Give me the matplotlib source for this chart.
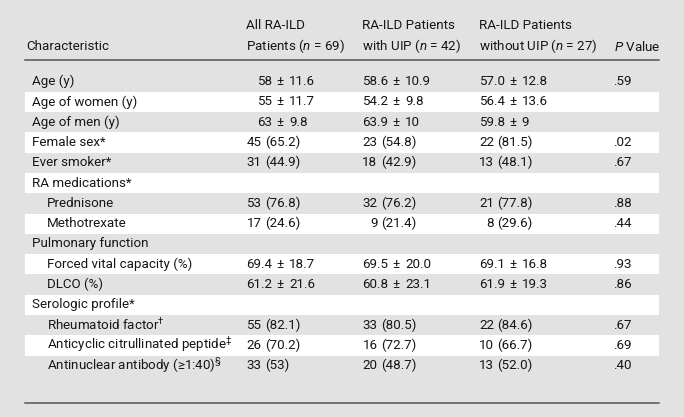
import matplotlib
matplotlib.use("Agg")
import matplotlib.pyplot as plt
from matplotlib.patches import Rectangle

# table content
headers = [
    ["Characteristic"],
    ["All RA-ILD", "Patients ($n$ = 69)"],
    ["RA-ILD Patients", "with UIP ($n$ = 42)"],
    ["RA-ILD Patients", "without UIP ($n$ = 27)"],
    ["$P$ Value"],
]
labels = ["Age (y)", "Age of women (y)", "Age of men (y)", "Female sex*", "Ever smoker*",
          "RA medications*", "Prednisone", "Methotrexate", "Pulmonary function",
          "Forced vital capacity (%)", "DLCO (%)", "Serologic profile*",
          "Rheumatoid factor$^{\u2020}$", "Anticyclic citrullinated peptide$^{\u2021}$",
          "Antinuclear antibody (\u22651:40)$^{\u00a7}$"]
indented = [False, False, False, False, False, False, True, True, False, True, True,
            False, True, True, True]
all_pts = ["58 ± 11.6", "55 ± 11.7", "63 ± 9.8", "45 (65.2)", "31 (44.9)", "",
           "53 (76.8)", "17 (24.6)", "", "69.4 ± 18.7", "61.2 ± 21.6", "",
           "55 (82.1)", "26 (70.2)", "33 (53)"]
with_uip = ["58.6 ± 10.9", "54.2 ± 9.8", "63.9 ± 10", "23 (54.8)", "18 (42.9)", "",
            "32 (76.2)", "9 (21.4)", "", "69.5 ± 20.0", "60.8 ± 23.1", "",
            "33 (80.5)", "16 (72.7)", "20 (48.7)"]
without_uip = ["57.0 ± 12.8", "56.4 ± 13.6", "59.8 ± 9", "22 (81.5)", "13 (48.1)", "",
               "21 (77.8)", "8 (29.6)", "", "69.1 ± 16.8", "61.9 ± 19.3", "",
               "22 (84.6)", "10 (66.7)", "13 (52.0)"]
p_values = [".59", "", "", ".02", ".67", "", ".88", ".44", "", ".93", ".86", "",
            ".67", ".69", ".40"]

plt.rcParams['font.family'] = ['Roboto', 'DejaVu Sans']
plt.rcParams['mathtext.fontset'] = 'custom'
plt.rcParams['mathtext.it'] = 'Roboto:italic'
plt.rcParams['mathtext.rm'] = 'Roboto'

W, H = 684, 417
fig = plt.figure(figsize=(W / 100, H / 100), dpi=100)
fig.patch.set_facecolor("#e2e2e2")
ax = fig.add_axes([0, 0, 1, 1])
ax.set_xlim(0, W)
ax.set_ylim(H, 0)
ax.axis("off")

fs = 9.6
color = "#161616"
left, right = 25, 659
top0, row_h = 71.4, 20.3
col_x = [26, 246.5, 362.5, 479, 613.5]

# header
for x, lines in zip(col_x, headers):
    ys = [46.5] if len(lines) == 1 else [25, 46.5]
    for y, t in zip(ys, lines):
        ax.text(x, y, t, fontsize=fs, color=color, va="center", ha="left")
ax.plot([left, right], [60, 60], color="#555555", lw=1.1)

# striped rows
for i in range(len(labels)):
    if i % 2 == 1:
        ax.add_patch(Rectangle((left, top0 + i * row_h), right - left, row_h,
                               facecolor="white", edgecolor="none"))
ax.plot([left, right], [403, 403], color="#555555", lw=1.1)

fig.canvas.draw()
renderer = fig.canvas.get_renderer()


def text_width(s):
    t = ax.text(0, 0, s, fontsize=fs)
    bb = t.get_window_extent(renderer)
    t.remove()
    return bb.width


w_dec = text_width("00.0")
w_int = text_width("00")
w_space = text_width("0 0") - text_width("00")

for i, lab in enumerate(labels):
    y = top0 + (i + 0.5) * row_h
    ax.text(47 if indented[i] else 32, y, lab, fontsize=fs, color=color,
            va="center", ha="left")
    for x, vals in zip(col_x[1:4], [all_pts, with_uip, without_uip]):
        v = vals[i]
        if not v:
            continue
        if "±" in v:
            mean, sd = [s.strip() for s in v.split("±")]
            anchor = x + w_dec
            ax.text(anchor, y, mean, fontsize=fs, color=color, va="center", ha="right")
            ax.text(anchor + 7.5, y, "±", fontsize=fs, color=color, va="center", ha="center")
            ax.text(anchor + 16.5, y, sd, fontsize=fs, color=color,
                    va="center", ha="left")
        else:
            first, rest = v.split(" ", 1)
            anchor = x + w_int
            ax.text(anchor, y, first, fontsize=fs, color=color, va="center", ha="right")
            ax.text(anchor + w_space, y, rest, fontsize=fs, color=color,
                    va="center", ha="left")
    if p_values[i]:
        ax.text(col_x[4], y, p_values[i], fontsize=fs, color=color, va="center", ha="left")

plt.savefig("out.png", dpi=100, facecolor=fig.get_facecolor())
